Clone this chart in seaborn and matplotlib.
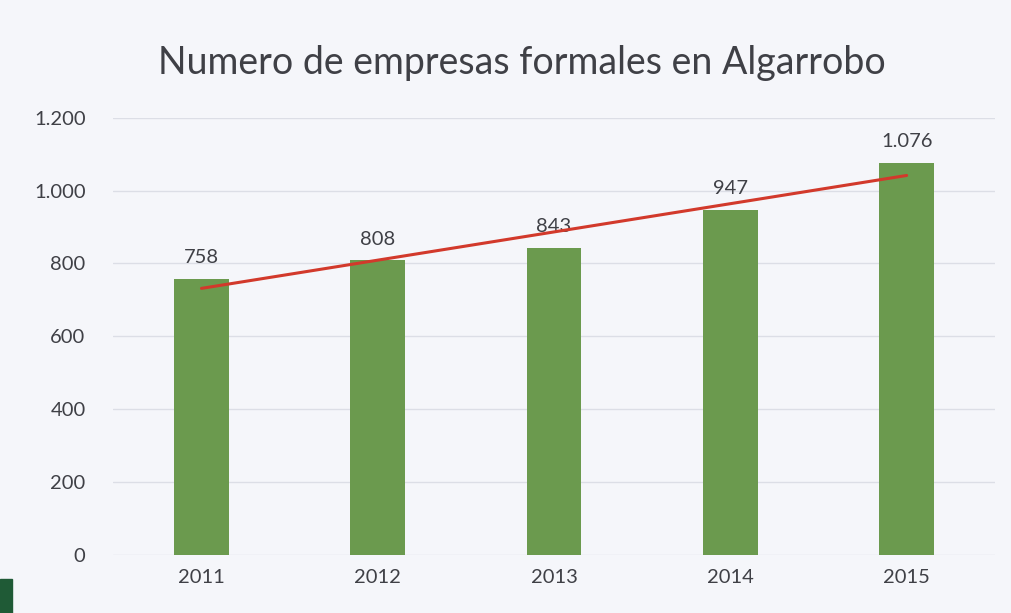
import numpy as np
import pandas as pd
import matplotlib
matplotlib.use("Agg")
import matplotlib.pyplot as plt
import seaborn as sns
from matplotlib.ticker import FuncFormatter

# data
years = ["2011", "2012", "2013", "2014", "2015"]
empresas = [758, 808, 843, 947, 1076]
labels = ["758", "808", "843", "947", "1.076"]

df = pd.DataFrame({"anio": years, "empresas": empresas})

sns.set_theme(style="white")
plt.rcParams["font.family"] = ["Lato", "DejaVu Sans"]

bg = "#f5f6fa"
txt = "#3f4046"
fig, ax = plt.subplots(figsize=(10.12, 6.13), dpi=100)
fig.patch.set_facecolor(bg)
ax.set_facecolor(bg)
fig.subplots_adjust(left=0.112, right=0.983, top=0.808, bottom=0.095)

sns.barplot(data=df, x="anio", y="empresas", color="#6b9a4e", saturation=1,
            width=0.31, ax=ax, zorder=3, edgecolor="none", linewidth=0)

# linear trend line (Excel style)
x = np.arange(len(years))
k, b = np.polyfit(x, empresas, 1)
ax.plot(x, k * x + b, color="#d2392b", lw=2.2, zorder=4)

for xi, v, lab in zip(x, empresas, labels):
    ax.annotate(lab, (xi, v), xytext=(0, 9), textcoords="offset points",
                ha="center", va="bottom", fontsize=14.5, color=txt)

ax.set_ylim(0, 1200)
ax.set_yticks(range(0, 1201, 200))
ax.yaxis.set_major_formatter(FuncFormatter(lambda v, p: f"{int(v):,}".replace(",", ".")))
ax.set_xlim(-0.5, 4.5)
ax.grid(axis="y", color="#dcdee6", lw=1, zorder=0)
for s in ax.spines.values():
    s.set_visible(False)
ax.tick_params(axis="both", length=0, labelsize=14.5, colors=txt)
ax.tick_params(axis="y", pad=20)
ax.tick_params(axis="x", pad=10)
ax.set_xlabel("")
ax.set_ylabel("")

fig.text(0.516, 0.898, "Numero de empresas formales en Algarrobo", fontsize=27,
         color=txt, ha="center", va="center")

# dark green corner from the photo
fig.patches.append(plt.Rectangle((0, 0), 0.012, 0.055, transform=fig.transFigure,
                                 color="#1f5a36", zorder=0))

fig.savefig("out.png", dpi=100, facecolor=bg)
